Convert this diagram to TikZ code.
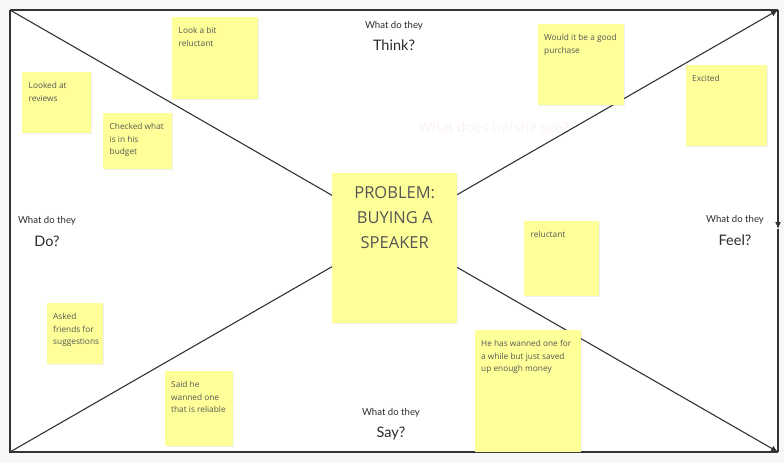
\documentclass[tikz,border=0pt]{standalone}
\usepackage{fontspec}
\setmainfont{Open Sans}
\newfontfamily\labelfont{Lato}
\usetikzlibrary{arrows.meta,shadows}
\definecolor{bgout}{HTML}{F6F7F9}
\definecolor{stick}{HTML}{FFFF99}
\definecolor{frame}{HTML}{333333}
\definecolor{notetxt}{HTML}{555555}
\definecolor{lbltxt}{HTML}{2B2B2B}
\definecolor{faint}{HTML}{FCF0F2}
\tikzset{
  sticky/.style={fill=stick, draw=none, inner sep=0, anchor=north west,
    drop shadow={opacity=0.12, shadow xshift=0.8pt, shadow yshift=-0.8pt}},
  notetext/.style={anchor=north west, inner sep=0, align=left, text=notetxt,
    font=\fontsize{8.3}{12.5}\selectfont},
  smalllbl/.style={text=lbltxt, inner sep=0, font=\labelfont\fontsize{9.6}{11}\selectfont},
  biglbl/.style={text=lbltxt, inner sep=0, font=\labelfont\fontsize{14.5}{16}\selectfont},
  edge/.style={draw=frame, line width=1.1pt},
  tip/.style={-{Latex[length=7pt,width=6pt]}}
}
\begin{document}
\begin{tikzpicture}[x=1pt,y=-1pt]
\fill[bgout] (0,0) rectangle (784,463);
\fill[white] (10,10) rectangle (778,452);
\coordinate (tl) at (10,10);
\coordinate (tr) at (778,10);
\coordinate (bl) at (10,452);
\coordinate (br) at (778,452);
\coordinate (mr) at (778,229);
% faint text
\node[text=faint, inner sep=0, font=\fontsize{14}{16}\selectfont] (see) at (494,127) {What does he/she see?};
% frame
\draw[edge] (tl) -- (tr);
\draw[edge] (tl) -- (bl) -- (br);
\draw[edge] (mr) -- (br);
\draw[edge,tip] (tr) -- (mr);
% diagonals
\draw[edge,tip] (tl) -- (br);
\draw[edge,tip] (bl) -- (tr);
% center box
\node[sticky, minimum width=125, minimum height=150] (center) at (332,173) {};
\node[text=notetxt, inner sep=0, align=center, font=\fontsize{16.5}{25}\selectfont] (ctext) at ([yshift=-45pt]center.north) {PROBLEM:\\BUYING A\\SPEAKER};
% stickies
\node[sticky, minimum width=86, minimum height=82] (n1) at (172,17) {};
\node[notetext] (t1) at ([xshift=6.5pt,yshift=-10pt]n1.north west) {Look a bit\\reluctant};
\node[sticky, minimum width=69, minimum height=61] (n2) at (22,72) {};
\node[notetext] (t2) at ([xshift=6.5pt,yshift=-10pt]n2.north west) {Looked at\\reviews};
\node[sticky, minimum width=69, minimum height=56] (n3) at (103,113) {};
\node[notetext] (t3) at ([xshift=6.5pt,yshift=-10pt]n3.north west) {Checked what\\is in his\\budget};
\node[sticky, minimum width=86, minimum height=81] (n4) at (538,24) {};
\node[notetext] (t4) at ([xshift=6pt,yshift=-10pt]n4.north west) {Would it be a good\\purchase};
\node[sticky, minimum width=81, minimum height=81] (n5) at (686,65) {};
\node[notetext] (t5) at ([xshift=6pt,yshift=-10pt]n5.north west) {Excited};
\node[sticky, minimum width=56, minimum height=61] (n6) at (47,303) {};
\node[notetext] (t6) at ([xshift=6pt,yshift=-10pt]n6.north west) {Asked\\friends for\\suggestions};
\node[sticky, minimum width=68, minimum height=75] (n7) at (165,371) {};
\node[notetext] (t7) at ([xshift=6pt,yshift=-10pt]n7.north west) {Said he\\wanned one\\that is reliable};
\node[sticky, minimum width=75, minimum height=75] (n8) at (524,221) {};
\node[notetext] (t8) at ([xshift=6.5pt,yshift=-10pt]n8.north west) {reluctant};
\node[sticky, minimum width=106, minimum height=122] (n9) at (475,330) {};
\node[notetext] (t9) at ([xshift=6pt,yshift=-10pt]n9.north west) {He has wanned one for\\a while but just saved\\up enough money};
% labels
\node[smalllbl] (l1) at (394,26) {What do they};
\node[biglbl] (l1b) at (394,45) {Think?};
\node[smalllbl] (l2) at (47,221) {What do they};
\node[biglbl] (l2b) at (47,241) {Do?};
\node[smalllbl] (l3) at (735,220) {What do they};
\node[biglbl] (l3b) at (735,240) {Feel?};
\node[smalllbl] (l4) at (391,413) {What do they};
\node[biglbl] (l4b) at (391,433) {Say?};
\end{tikzpicture}
\end{document}
